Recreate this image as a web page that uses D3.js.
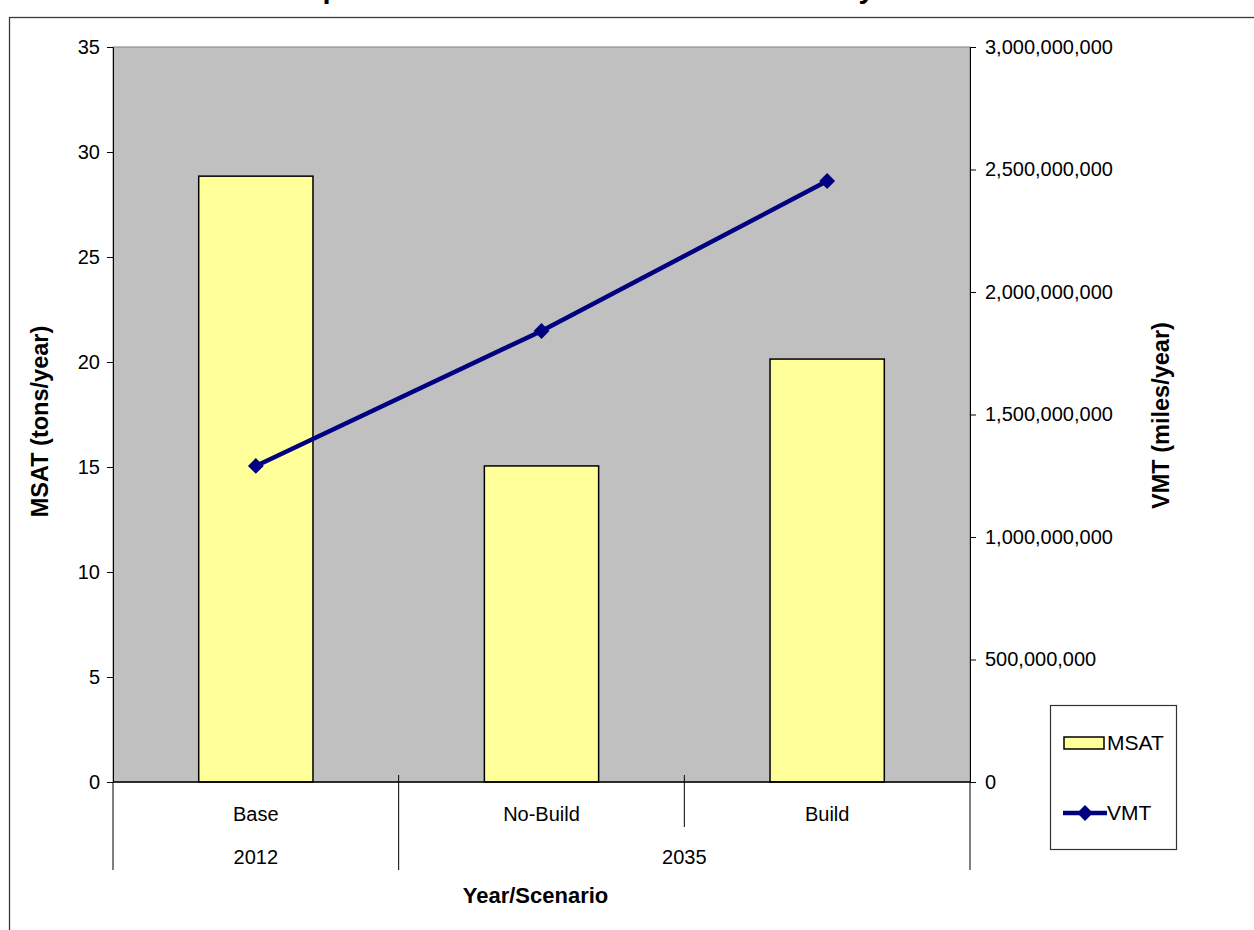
<!DOCTYPE html>
<html>
<head>
<meta charset="utf-8">
<script src="https://cdn.jsdelivr.net/npm/d3@7"></script>
<style>
  html, body { margin: 0; padding: 0; background: #fff; }
  svg { display: block; font-family: "Liberation Sans", Arial, sans-serif; }
</style>
</head>
<body>
<svg id="chart" width="1254" height="930"></svg>
<script>
// Scenario categories and their year groups
const scenarios = ["Base", "No-Build", "Build"];
const yearGroups = [
  { label: "2012", first: "Base", last: "Base" },
  { label: "2035", first: "No-Build", last: "Build" }
];

// Series values
const msat = [28.85, 15.05, 20.14];              // tons/year
const vmt = [1290000000, 1841000000, 2453000000]; // miles/year

// Axis ticks
const msatTicks = [0, 5, 10, 15, 20, 25, 30, 35];
const vmtTicks = [0, 500000000, 1000000000, 1500000000, 2000000000, 2500000000, 3000000000];

const svg = d3.select("#chart");
const plot = { left: 113, right: 970, top: 47, bottom: 782 };
const labelSize = 20;

// Chart area outline
svg.append("rect")
  .attr("x", 9.5).attr("y", 17.5)
  .attr("width", 1400).attr("height", 1000)
  .attr("fill", "#fff").attr("stroke", "#3a3a3a").attr("stroke-width", 1.3);

// Title
svg.append("text")
  .attr("x", 258).attr("y", -2)
  .attr("font-size", 29).attr("font-weight", "bold")
  .text("Comparison of MSAT Emissions and VMT by Year/Scenario");

const x = d3.scaleBand().domain(scenarios).range([plot.left, plot.right]).padding(0);
const yL = d3.scaleLinear().domain([0, 35]).range([plot.bottom, plot.top]);
const yR = d3.scaleLinear().domain([0, 3000000000]).range([plot.bottom, plot.top]);

// Plot area
svg.append("rect")
  .attr("x", plot.left).attr("y", plot.top)
  .attr("width", plot.right - plot.left).attr("height", plot.bottom - plot.top)
  .attr("fill", "#c0c0c0").attr("stroke", "#808080").attr("stroke-width", 1);

// Bars
const barW = x.bandwidth() * 0.4;
svg.append("g").selectAll("rect")
  .data(scenarios)
  .join("rect")
  .attr("x", d => x(d) + (x.bandwidth() - barW) / 2)
  .attr("y", (d, i) => yL(msat[i]))
  .attr("width", barW)
  .attr("height", (d, i) => yL(0) - yL(msat[i]))
  .attr("fill", "#ffff99")
  .attr("stroke", "#000").attr("stroke-width", 1.5);

// VMT line
const cx = d => x(d) + x.bandwidth() / 2;
const line = d3.line().x((d, i) => cx(scenarios[i])).y(d => yR(d));
svg.append("path")
  .datum(vmt)
  .attr("d", line)
  .attr("fill", "none").attr("stroke", "#000080").attr("stroke-width", 4.5);

const diamond = d3.symbol().type(d3.symbolDiamond2).size(160);
svg.append("g").selectAll("path")
  .data(vmt)
  .join("path")
  .attr("d", diamond)
  .attr("transform", (d, i) => `translate(${cx(scenarios[i])},${yR(d)})`)
  .attr("fill", "#000080");

// Left axis
const axL = svg.append("g")
  .attr("transform", `translate(${plot.left},0)`)
  .call(d3.axisLeft(yL).tickValues(msatTicks).tickSize(6).tickPadding(7).tickSizeOuter(0));
// Right axis
const axR = svg.append("g")
  .attr("transform", `translate(${plot.right},0)`)
  .call(d3.axisRight(yR).tickValues(vmtTicks).tickSize(6).tickPadding(9).tickSizeOuter(0)
    .tickFormat(d3.format(",")));
[axL, axR].forEach(g => {
  g.selectAll("text").attr("font-size", labelSize).attr("fill", "#000")
    .style("font-family", "'Liberation Sans', Arial, sans-serif");
  g.selectAll("line").attr("stroke", "#000");
  g.select(".domain").attr("stroke", "#000");
});

// Category axis with two label levels
const xa = svg.append("g");
xa.append("line")
  .attr("x1", plot.left).attr("x2", plot.right)
  .attr("y1", plot.bottom).attr("y2", plot.bottom)
  .attr("stroke", "#000").attr("stroke-width", 1.5);

// Boundary ticks: scenario boundaries reach the first level, group boundaries reach both
const boundaries = scenarios.map(d => x(d)).concat([plot.right]);
const groupEdges = new Set([x(yearGroups[0].first), x(yearGroups[1].first), plot.right]);
xa.selectAll("line.tick")
  .data(boundaries)
  .join("line")
  .attr("class", "tick")
  .attr("x1", d => d).attr("x2", d => d)
  .attr("y1", d => (d === plot.left || d === plot.right) ? plot.bottom : plot.bottom - 7)
  .attr("y2", d => groupEdges.has(d) ? plot.bottom + 88 : plot.bottom + 45)
  .attr("stroke", "#000").attr("stroke-width", 1);

xa.selectAll("text.cat")
  .data(scenarios)
  .join("text")
  .attr("class", "cat")
  .attr("x", d => cx(d)).attr("y", plot.bottom + 39)
  .attr("text-anchor", "middle").attr("font-size", labelSize)
  .text(d => d);

xa.selectAll("text.grp")
  .data(yearGroups)
  .join("text")
  .attr("class", "grp")
  .attr("x", d => (x(d.first) + x(d.last) + x.bandwidth()) / 2)
  .attr("y", plot.bottom + 82)
  .attr("text-anchor", "middle").attr("font-size", labelSize)
  .text(d => d.label);

// Axis titles
svg.append("text")
  .attr("x", (plot.left + plot.right) / 2 - 6).attr("y", 903)
  .attr("text-anchor", "middle").attr("font-size", 22).attr("font-weight", "bold")
  .text("Year/Scenario");

svg.append("text")
  .attr("transform", `translate(48,${(plot.top + plot.bottom) / 2 + 7}) rotate(-90)`)
  .attr("text-anchor", "middle").attr("font-size", 23.5).attr("font-weight", "bold")
  .text("MSAT (tons/year)");

svg.append("text")
  .attr("transform", `translate(1169,${(plot.top + plot.bottom) / 2 + 1}) rotate(-90)`)
  .attr("text-anchor", "middle").attr("font-size", 23.5).attr("font-weight", "bold")
  .text("VMT (miles/year)");

// Legend
const lg = svg.append("g");
lg.append("rect")
  .attr("x", 1050.5).attr("y", 705.5).attr("width", 126).attr("height", 144)
  .attr("fill", "#fff").attr("stroke", "#333").attr("stroke-width", 1.2);
lg.append("rect")
  .attr("x", 1064).attr("y", 737).attr("width", 40).attr("height", 12)
  .attr("fill", "#ffff99").attr("stroke", "#000").attr("stroke-width", 1.5);
lg.append("text")
  .attr("x", 1107).attr("y", 750).attr("font-size", 21).text("MSAT");
lg.append("line")
  .attr("x1", 1063).attr("x2", 1107).attr("y1", 813).attr("y2", 813)
  .attr("stroke", "#000080").attr("stroke-width", 4.5);
lg.append("path")
  .attr("d", diamond)
  .attr("transform", "translate(1085,813)")
  .attr("fill", "#000080");
lg.append("text")
  .attr("x", 1107).attr("y", 820).attr("font-size", 21).text("VMT");
</script>
</body>
</html>
